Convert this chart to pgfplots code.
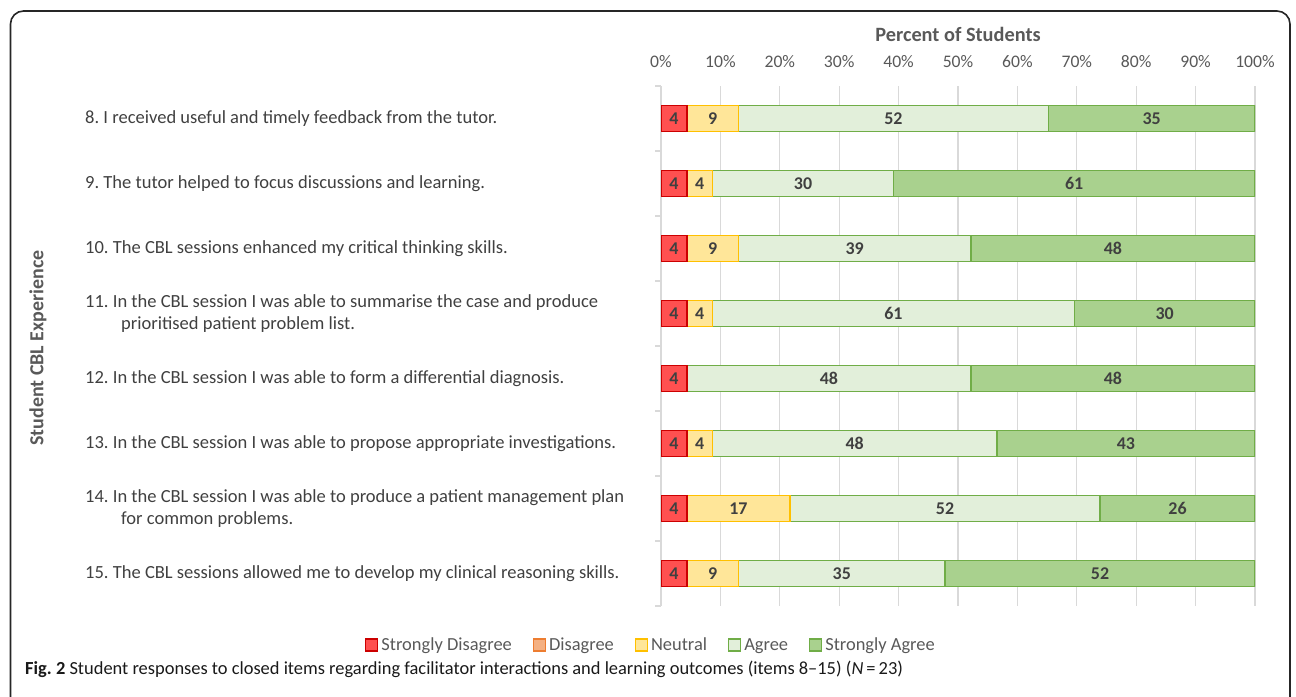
\documentclass[border=0pt]{standalone}
\usepackage{pgfplots}
\pgfplotsset{compat=1.18}
\usepackage{fontspec}
\setmainfont{Carlito}
\frenchspacing
\definecolor{sdfill}{RGB}{255,80,80}
\definecolor{sddraw}{RGB}{204,0,0}
\definecolor{dfill}{RGB}{244,177,131}
\definecolor{ddraw}{RGB}{237,125,49}
\definecolor{nfill}{RGB}{255,230,153}
\definecolor{ndraw}{RGB}{255,192,0}
\definecolor{afill}{RGB}{226,239,218}
\definecolor{adraw}{RGB}{112,173,71}
\definecolor{safill}{RGB}{169,209,142}
\definecolor{sadraw}{RGB}{112,173,71}
\definecolor{gridc}{RGB}{217,217,217}
\definecolor{txt}{RGB}{64,64,64}
\definecolor{txtl}{RGB}{89,89,89}
\begin{document}
\begin{tikzpicture}
\useasboundingbox (0,0) rectangle (1296bp,697bp);
\draw[line width=1.6bp, black!85, rounded corners=13bp] (10.5bp,-30bp) -- (10.5bp,686bp) -- (1290bp,686bp) -- (1290bp,-30bp);
\begin{axis}[
  at={(661bp,611bp)}, anchor=north west,
  scale only axis, width=594bp, height=520bp,
  xbar stacked, bar width=26bp,
  xmin=0, xmax=100, ymin=0.5, ymax=8.5,
  axis line style={draw=none},
  xtick={0,10,...,100},
  xticklabels={0\%,10\%,20\%,30\%,40\%,50\%,60\%,70\%,80\%,90\%,100\%},
  xticklabel pos=right,
  xticklabel style={anchor=base, yshift=18bp, font=\fontsize{17.7}{20}\selectfont, text=txtl},
  xmajorgrids, grid style={gridc, line width=1.2bp},
  major tick length=0pt,
  ytick={1,...,8},
  yticklabels={
    {15. The CBL sessions allowed me to develop my clinical reasoning skills.},
    {14. In the CBL session I was able to produce a patient management plan\\\hspace*{36bp}for common problems.},
    {13. In the CBL session I was able to propose appropriate investigations.},
    {12. In the CBL session I was able to form a differential diagnosis.},
    {11. In the CBL session I was able to summarise the case and produce\\\hspace*{36bp}prioritised patient problem list.},
    {10. The CBL sessions enhanced my critical thinking skills.},
    {9. The tutor helped to focus discussions and learning.},
    {8. I received useful and timely feedback from the tutor.}},
  yticklabel style={anchor=west, align=left, inner sep=0pt, xshift=-576bp, font=\fontsize{18.6}{21.5}\selectfont, text=txt},
  ytick pos=left,
  minor ytick={0.5,1.5,...,8.5},
  minor tick length=6bp, tick align=outside,
  minor tick style={gridc, line width=1.2bp},
  point meta=explicit symbolic,
  nodes near coords,
  every node near coord/.append style={font=\bfseries\fontsize{18}{20}\selectfont, text=txt},
  legend columns=5,
  legend image code/.code={\draw[#1, line width=1.2bp] (0bp,-6bp) rectangle (12bp,6bp);},
  legend style={at={(-0.0168,-0.075)}, anchor=center, draw=none, fill=none,
    font=\fontsize{18.5}{20}\selectfont, text=txtl,
    /tikz/every even column/.append style={column sep=19bp},
    /tikz/every odd column/.append style={column sep=1bp}},
]
\addplot[fill=sdfill, draw=sddraw, line width=1.5bp] coordinates {
  (4.35,8) [4] (4.35,7) [4] (4.35,6) [4] (4.35,5) [4]
  (4.35,4) [4] (4.35,3) [4] (4.35,2) [4] (4.35,1) [4]};
\addlegendentry{Strongly Disagree}
\addlegendimage{fill=dfill, draw=ddraw}
\addlegendentry{Disagree}
\addplot[fill=nfill, draw=ndraw, line width=1.5bp] coordinates {
  (8.70,8) [9] (4.35,7) [4] (8.70,6) [9] (4.35,5) [4]
  (0,4) [\relax] (4.35,3) [4] (17.39,2) [17] (8.70,1) [9]};
\addlegendentry{Neutral}
\addplot[fill=afill, draw=adraw, line width=1.5bp] coordinates {
  (52.17,8) [52] (30.43,7) [30] (39.13,6) [39] (60.87,5) [61]
  (47.83,4) [48] (47.83,3) [48] (52.17,2) [52] (34.78,1) [35]};
\addlegendentry{Agree}
\addplot[fill=safill, draw=sadraw, line width=1.5bp] coordinates {
  (34.78,8) [35] (60.87,7) [61] (47.81,6) [48] (30.43,5) [30]
  (47.81,4) [48] (43.46,3) [43] (26.09,2) [26] (52.17,1) [52]};
\addlegendentry{Strongly Agree}
\end{axis}
\node[anchor=base, font=\bfseries\fontsize{20.4}{24}\selectfont, text=txtl] at (958bp,655bp) {Percent of Students};
\node[anchor=center, rotate=90, font=\bfseries\fontsize{20}{24}\selectfont, text=txtl] at (38bp,349bp) {Student CBL Experience};
\node[anchor=base west, inner sep=0pt, font=\fontsize{18.5}{22}\selectfont, text=black!90] at (25bp,23bp) {\textbf{Fig. 2} Student responses to closed items regarding facilitator interactions and learning outcomes (items 8--15) (\textit{N}\,=\,23)};
\end{tikzpicture}
\end{document}
